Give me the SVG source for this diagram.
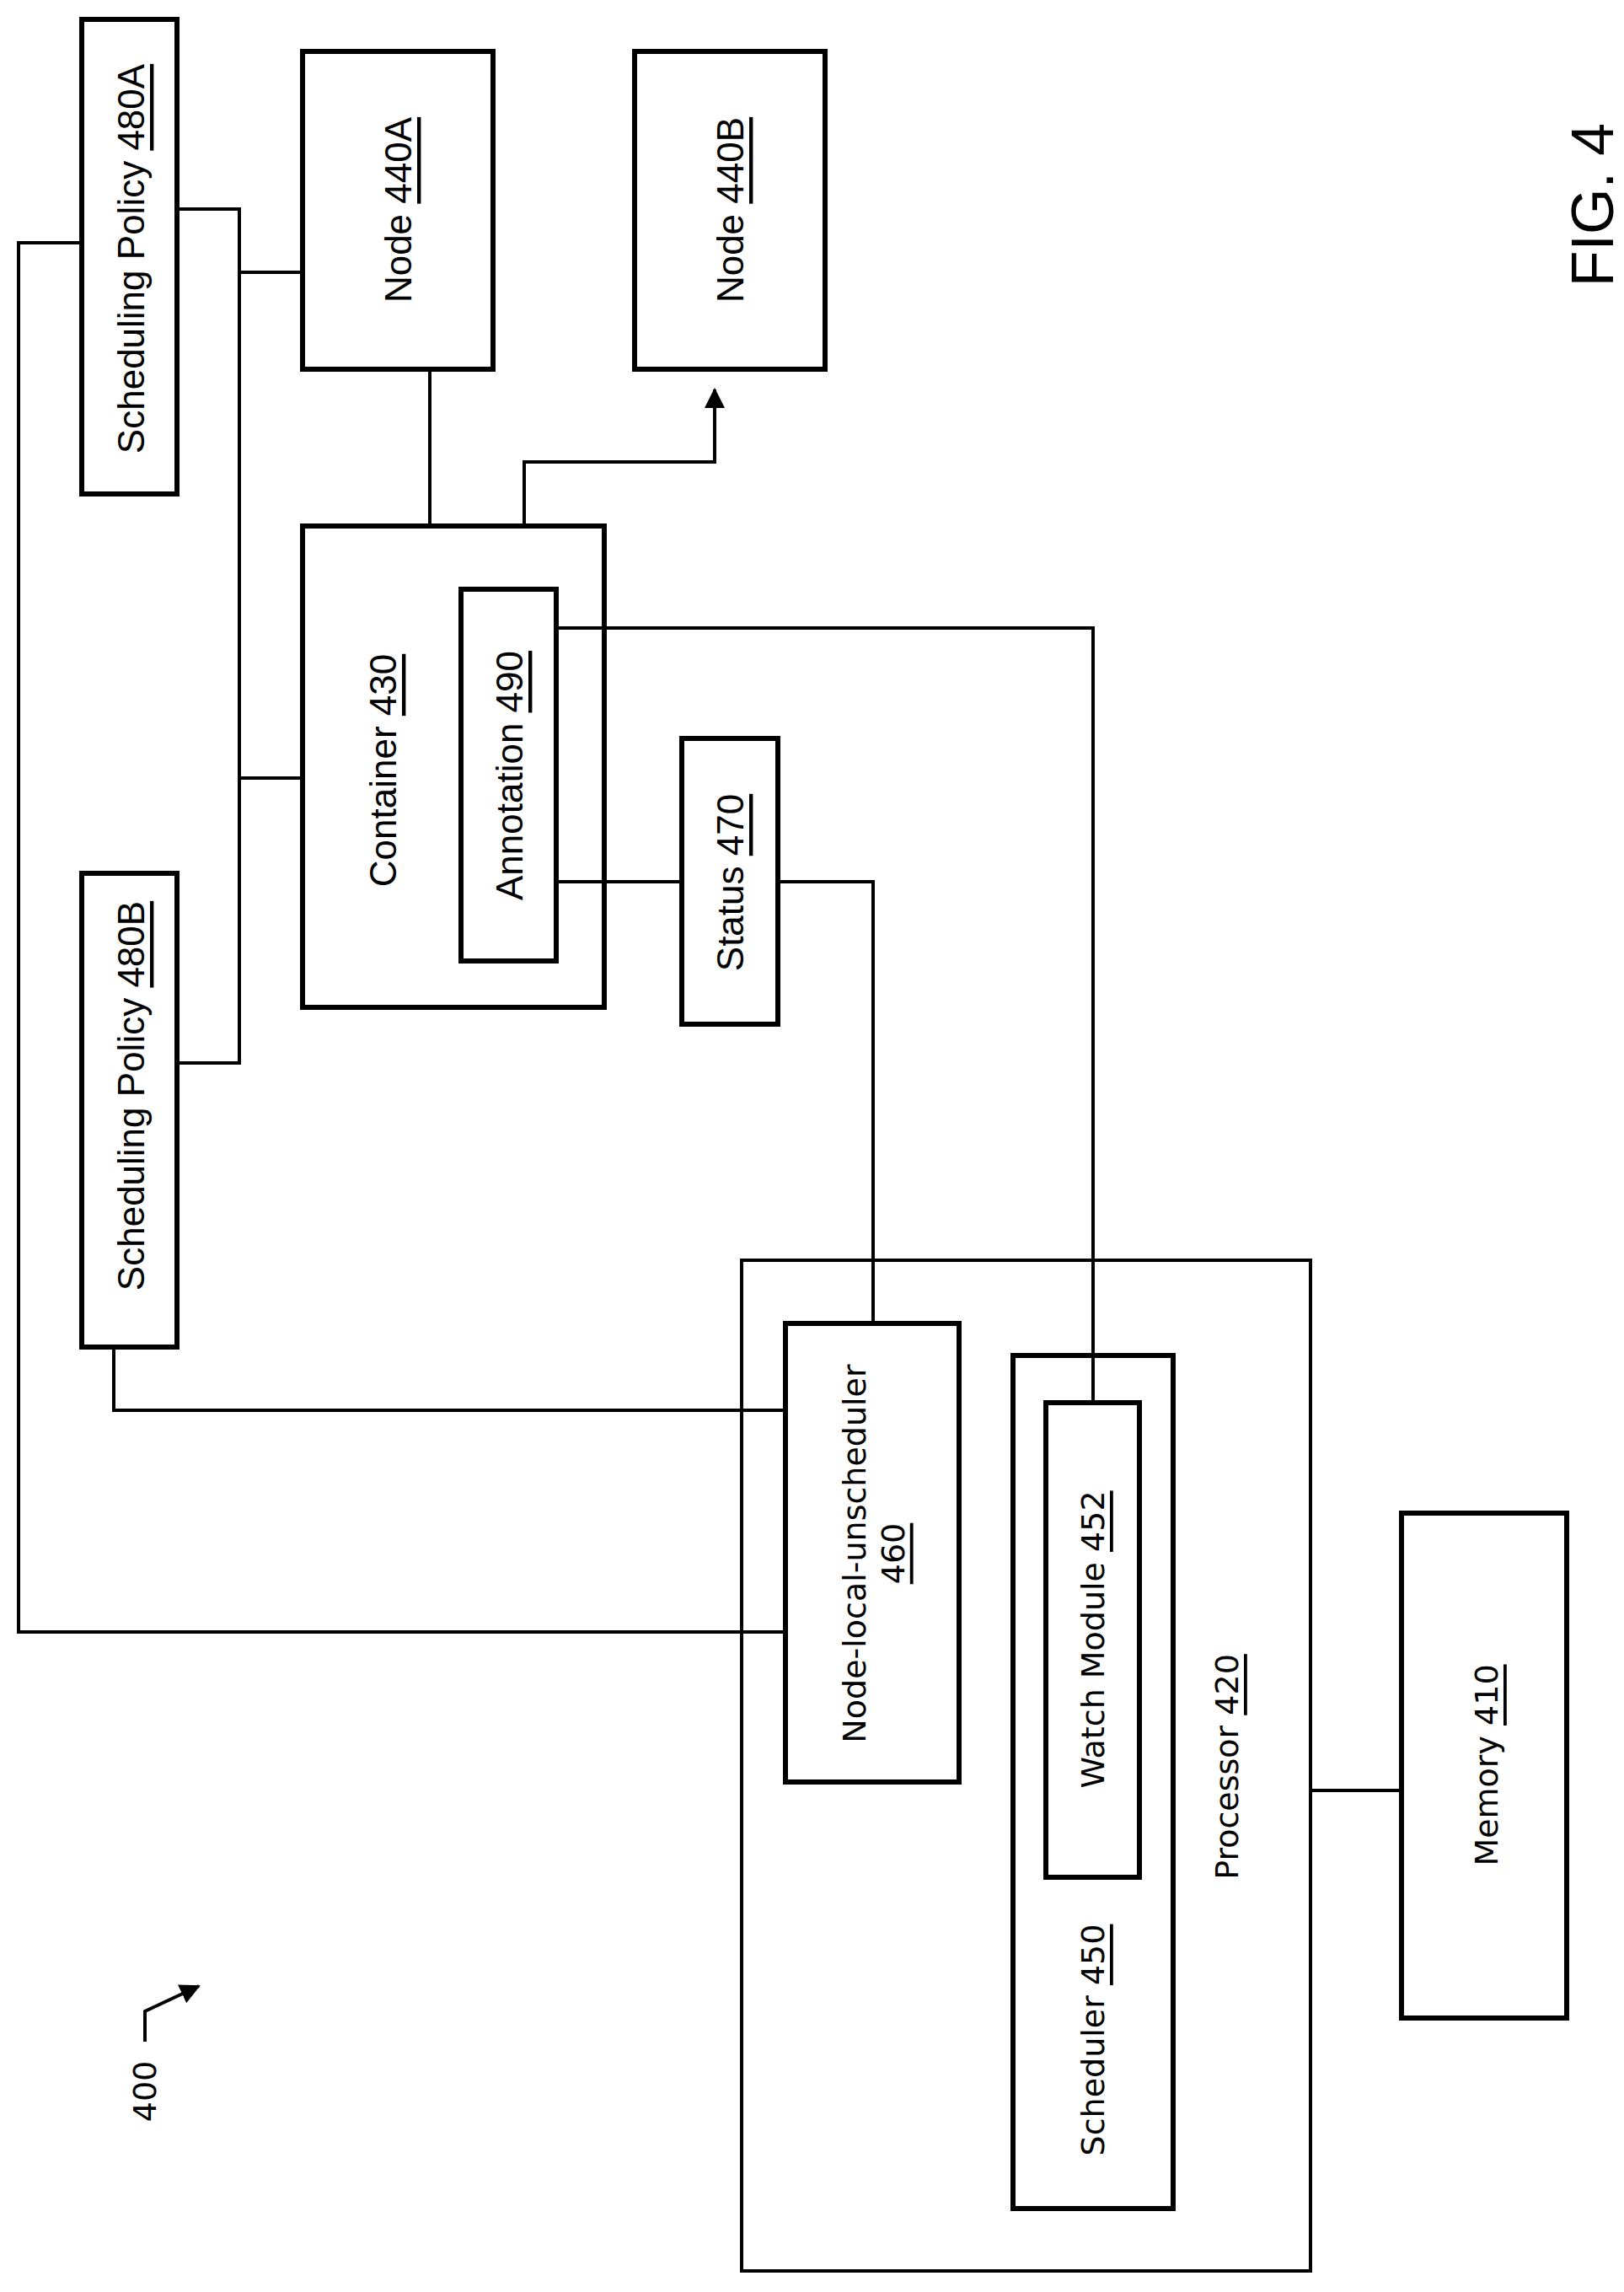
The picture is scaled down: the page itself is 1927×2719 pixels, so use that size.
<svg xmlns="http://www.w3.org/2000/svg" width="1927" height="2719" viewBox="0 0 1927 2719">
<style>
.b{fill:none;stroke:#000;stroke-width:6}
.c{fill:none;stroke:#000;stroke-width:4}
.t{font-family:"Liberation Sans",Arial,sans-serif;font-size:44px;text-anchor:middle;dominant-baseline:central}
.d{font-family:"DejaVu Sans",sans-serif;font-size:38px;text-anchor:middle;dominant-baseline:central}
.u{text-decoration:underline}
</style>
<defs><marker id="a" markerWidth="10" markerHeight="10" refX="9" refY="5" orient="auto" markerUnits="userSpaceOnUse" viewBox="0 0 10 10"><path d="M0,0L10,5L0,10z"/></marker>
<marker id="a2" markerWidth="24" markerHeight="24" refX="22" refY="12" orient="auto" markerUnits="userSpaceOnUse" viewBox="0 0 24 24"><path d="M0,0L24,12L0,24z"/></marker></defs>
<rect width="1927" height="2719" fill="#fff"/>
<g id="connectors">
<path class="c" d="M210,248H284V1261H210M284,323H359M284,923H359"/>
<path class="c" d="M97,288H22V1936H932"/>
<path class="c" d="M135,1598V1673H932"/>
<path class="c" d="M510,438V624"/>
<path class="c" d="M622,624V548H848V462" marker-end="url(#a2)"/>
<path class="c" d="M660,745H1297V1664"/>
<path class="c" d="M660,1046H809M923,1046H1036V1570"/>
<path class="c" d="M1555,2124H1663"/>
<path class="c" d="M172,2422V2386L236,2356" marker-end="url(#a2)"/>
</g>
<g id="sp480a"><rect class="b" x="97" y="23" width="113" height="563"/><text class="t" transform="rotate(-90 155 307)" x="155" y="307">Scheduling Policy <tspan class="u">480A</tspan></text></g>
<g id="node440a"><rect class="b" x="359" y="61" width="226" height="377"/><text class="t" transform="rotate(-90 472 249)" x="472" y="249">Node <tspan class="u">440A</tspan></text></g>
<g id="node440b"><rect class="b" x="753" y="61" width="226" height="377"/><text class="t" transform="rotate(-90 866 249)" x="866" y="249">Node <tspan class="u">440B</tspan></text></g>
<g id="container430"><rect class="b" x="359" y="624" width="358" height="571"/><text class="t" transform="rotate(-90 454 914)" x="454" y="914">Container <tspan class="u">430</tspan></text></g>
<g id="annotation490"><rect class="b" x="547" y="699" width="113" height="441"/><text class="t" transform="rotate(-90 604 920)" x="604" y="920">Annotation <tspan class="u">490</tspan></text></g>
<g id="status470"><rect class="b" x="809" y="876" width="114" height="339"/><text class="t" transform="rotate(-90 866 1047)" x="866" y="1047">Status <tspan class="u">470</tspan></text></g>
<g id="sp480b"><rect class="b" x="97" y="1036" width="113" height="562"/><text class="t" transform="rotate(-90 155 1300)" x="155" y="1300">Scheduling Policy <tspan class="u">480B</tspan></text></g>
<g id="processor420"><rect class="c" x="880" y="1495" width="675" height="1199"/><text class="d" transform="rotate(-90 1456 2096)" x="1456" y="2096">Processor <tspan class="u">420</tspan></text></g>
<g id="nlu460"><rect class="b" x="932" y="1570" width="206" height="544"/><text class="d" transform="rotate(-90 1037 1843)" x="1037" y="1843"><tspan x="1037" dy="-0.6em">Node-local-unscheduler</tspan><tspan class="u" x="1037" dy="1.2em">460</tspan></text></g>
<g id="scheduler450"><rect class="b" x="1202" y="1608" width="190" height="1012"/><text class="d" transform="rotate(-90 1297 2420)" x="1297" y="2420">Scheduler <tspan class="u">450</tspan></text></g>
<g id="watch452"><rect class="b" x="1241" y="1664" width="111" height="563"/><text class="d" transform="rotate(-90 1297 1945)" x="1297" y="1945">Watch Module <tspan class="u">452</tspan></text></g>
<g id="memory410"><rect class="b" x="1663" y="1795" width="196" height="599"/><text class="d" transform="rotate(-90 1764 2094)" x="1764" y="2094">Memory <tspan class="u">410</tspan></text></g>
<text class="d" transform="rotate(-90 172 2481)" x="172" y="2481">400</text>
<text class="t" style="font-size:70px" transform="rotate(-90 1890 243)" x="1890" y="243">FIG. 4</text>
</svg>
